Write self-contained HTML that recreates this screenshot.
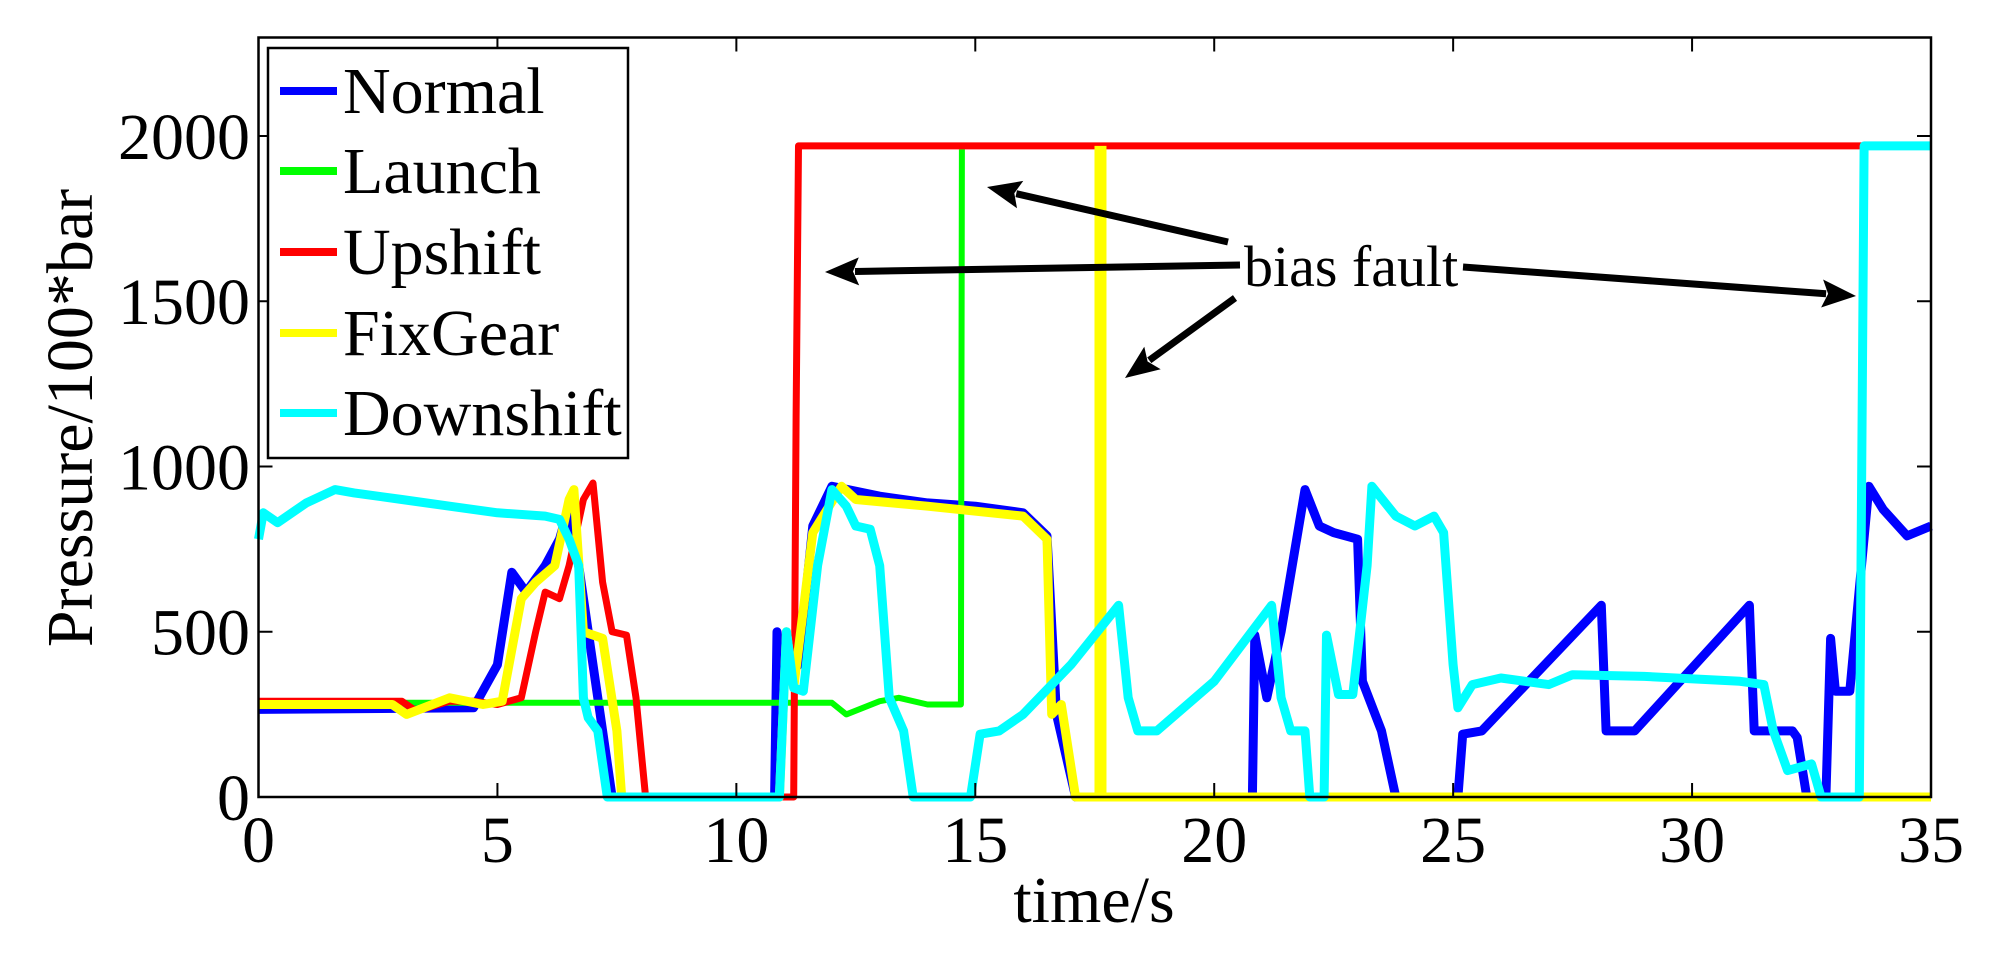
<!DOCTYPE html>
<html><head><meta charset="utf-8">
<style>
html,body{margin:0;padding:0;background:#fff;}
svg{display:block;}
text{font-family:"Liberation Serif",serif;fill:#000;}
</style></head>
<body>
<svg id="chart" width="1999" height="965" viewBox="0 0 1999 965" xmlns="http://www.w3.org/2000/svg">
<g id="plot"></g>
</svg>
<script>
// ---- data ----
const xTicks = [0,5,10,15,20,25,30,35];
const yTicks = [0,500,1000,1500,2000];
const normalT = [0,4.5,5,5.3,5.6,6,6.3,6.5,6.7,7,7.2,7.4,10.8,10.85,11,11.3,11.6,12,13,14,15,16,16.5,16.7,17.1,20.8,20.85,21.1,21.4,21.9,22.2,22.5,23,23.1,23.5,23.8,25.1,25.2,25.6,28.1,28.2,28.8,31.2,31.3,32.1,32.2,32.4,32.8,32.9,33.0,33.3,33.7,34,34.5,35];
const normalV = [265,270,400,680,620,700,780,880,700,400,200,0,0,500,350,400,820,940,910,890,880,860,790,250,0,0,490,300,500,930,820,800,780,350,200,0,0,190,200,580,200,200,580,200,200,180,0,0,480,320,320,940,870,790,820];
const launchT = [0,4.7,12,12.3,13,13.4,14,14.7,14.72];
const launchV = [285,285,285,250,290,300,280,280,1960];
const upshiftT = [0,3,3.3,4,4.5,5,5.5,5.8,6,6.3,6.5,6.8,7,7.2,7.4,7.7,7.9,8.1,11.2,11.25,11.3,35];
const upshiftV = [290,290,260,290,290,280,300,500,620,600,700,900,950,650,500,490,300,0,0,1150,1970,1970];
const fixT = [0,2.8,3.1,4,4.7,5.1,5.5,5.8,6.2,6.5,6.6,6.8,7.2,7.5,7.6,10.9,11.05,11.2,11.6,12.2,12.5,14,16,16.5,16.6,16.8,17.1,35];
const fixV = [280,280,250,300,280,290,600,650,700,900,930,500,480,200,0,0,500,330,800,940,900,880,850,780,250,280,0,0];
const fixFaultT = [17.62];
const fixFaultV = [1970];
const downT = [0,0.1,0.4,1,1.6,2,3,4,5,6,6.3,6.5,6.7,6.8,6.9,7.1,7.3,10.9,11.05,11.2,11.4,11.7,12.0,12.3,12.5,12.8,13.0,13.2,13.5,13.7,14.9,15.1,15.5,16,17,18,18.2,18.4,18.8,20,21.2,21.4,21.6,21.9,22,22.3,22.35,22.6,22.9,23.2,23.3,23.8,24.2,24.6,24.8,25,25.1,25.4,26,27,27.5,29,31,31.5,31.7,32,32.5,32.7,33.5,33.6,35];
const downV = [780,860,830,890,930,920,900,880,860,850,840,780,700,300,240,200,0,0,500,330,320,700,930,880,820,810,700,300,200,0,0,190,200,250,400,580,300,200,200,350,580,300,200,200,0,0,490,310,310,700,940,850,820,850,800,400,270,340,360,340,370,365,350,340,200,80,100,0,0,1970,1970];
const legendNames = ["Normal","Launch","Upshift","FixGear","Downshift"];
const legendColors = ["#0000ff","#00ff00","#ff0000","#ffff00","#00ffff"];

// ---- axes ----
const L=258.5, R=1931, T=37.5, B=797, XMAX=35, YMAX=2298;
const sx = t => L + t/XMAX*(R-L);
const sy = v => B - v/YMAX*(B-T);
const NS="http://www.w3.org/2000/svg";
const g=document.getElementById('plot');
function mk(tag, attrs, parent){const e=document.createElementNS(NS,tag);for(const k in attrs)e.setAttribute(k,attrs[k]);(parent||g).appendChild(e);return e;}

function series(ts, vs, color, w, name){
  let d='';
  for(let i=0;i<ts.length;i++) d+=(i?'L':'M')+sx(ts[i]).toFixed(1)+','+sy(vs[i]).toFixed(1);
  const p=mk('path',{d:d,fill:'none',stroke:color,'stroke-width':w,'stroke-linejoin':'round'});
  
  
}
series(normalT, normalV, '#0000ff', 9, 'series-normal');
series(launchT, launchV, '#00ff00', 6, 'series-launch');
series(upshiftT, upshiftV, '#ff0000', 7, 'series-upshift');
series(fixT, fixV, '#ffff00', 9, 'series-fixgear');
for(let i=0;i<fixFaultT.length;i++){
  const f=mk('line',{x1:sx(fixFaultT[i]),x2:sx(fixFaultT[i]),y1:sy(0),y2:sy(fixFaultV[i]),stroke:'#ffff00','stroke-width':12});
  
  
}
series(downT, downV, '#00ffff', 9, 'series-downshift');

// frame
const fr=mk('rect',{x:L,y:T,width:R-L,height:B-T,fill:'none',stroke:'#000','stroke-width':2.5});


xTicks.forEach(t=>{
  mk('line',{x1:sx(t),x2:sx(t),y1:B,y2:B-14,stroke:'#000','stroke-width':2});
  mk('line',{x1:sx(t),x2:sx(t),y1:T,y2:T+14,stroke:'#000','stroke-width':2});
  const tx=mk('text',{x:sx(t),y:862,'font-size':66,'text-anchor':'middle'});
  tx.textContent=t;
  
  
});
yTicks.forEach(v=>{
  mk('line',{x1:L,x2:L+14,y1:sy(v),y2:sy(v),stroke:'#000','stroke-width':2});
  mk('line',{x1:R,x2:R-14,y1:sy(v),y2:sy(v),stroke:'#000','stroke-width':2});
  const tx=mk('text',{x:250,y:sy(v)+23,'font-size':66,'text-anchor':'end'});
  tx.textContent=v;
  
  
});
const xl=mk('text',{x:1094,y:922,'font-size':66,'text-anchor':'middle'});
xl.textContent='time/s';


const yl=mk('text',{x:0,y:0,'font-size':66,'text-anchor':'middle',transform:'translate(92,418) rotate(-90)'});
yl.textContent='Pressure/100*bar';



// legend
const lg=mk('g',{});


mk('rect',{x:268,y:48,width:360,height:410,fill:'#fff',stroke:'#000','stroke-width':2.5},lg);
const rowY=[91,171,252,333,413];
legendNames.forEach((n,i)=>{
  const e=mk('g',{},lg);
  
  
  mk('line',{x1:280,x2:337,y1:rowY[i],y2:rowY[i],stroke:legendColors[i],'stroke-width':8},e);
  const t=mk('text',{x:343,y:rowY[i]+22,'font-size':66},e);
  t.textContent=n;
});

// annotation
const an=mk('g',{});


const at=mk('text',{x:1244,y:286,'font-size':58},an);
at.textContent='bias fault';
[[1228,242,987,187],[1240,265,825,272],[1235,298,1125,378],[1463,267,1856,296]].forEach(a=>{
  const dx=a[2]-a[0], dy=a[3]-a[1], len=Math.hypot(dx,dy), ux=dx/len, uy=dy/len;
  const hl=34, hw=14;
  const bx=a[2]-ux*hl, by=a[3]-uy*hl;
  mk('line',{x1:a[0],y1:a[1],x2:bx+ux*4,y2:by+uy*4,stroke:'#000','stroke-width':7},an);
  const pts=[[a[2],a[3]],[bx-uy*hw,by+ux*hw],[bx+ux*6,by+uy*6],[bx+uy*hw,by-ux*hw]].map(p=>p[0].toFixed(1)+','+p[1].toFixed(1)).join(' ');
  mk('polygon',{points:pts,fill:'#000'},an);
});
</script>
</body></html>
